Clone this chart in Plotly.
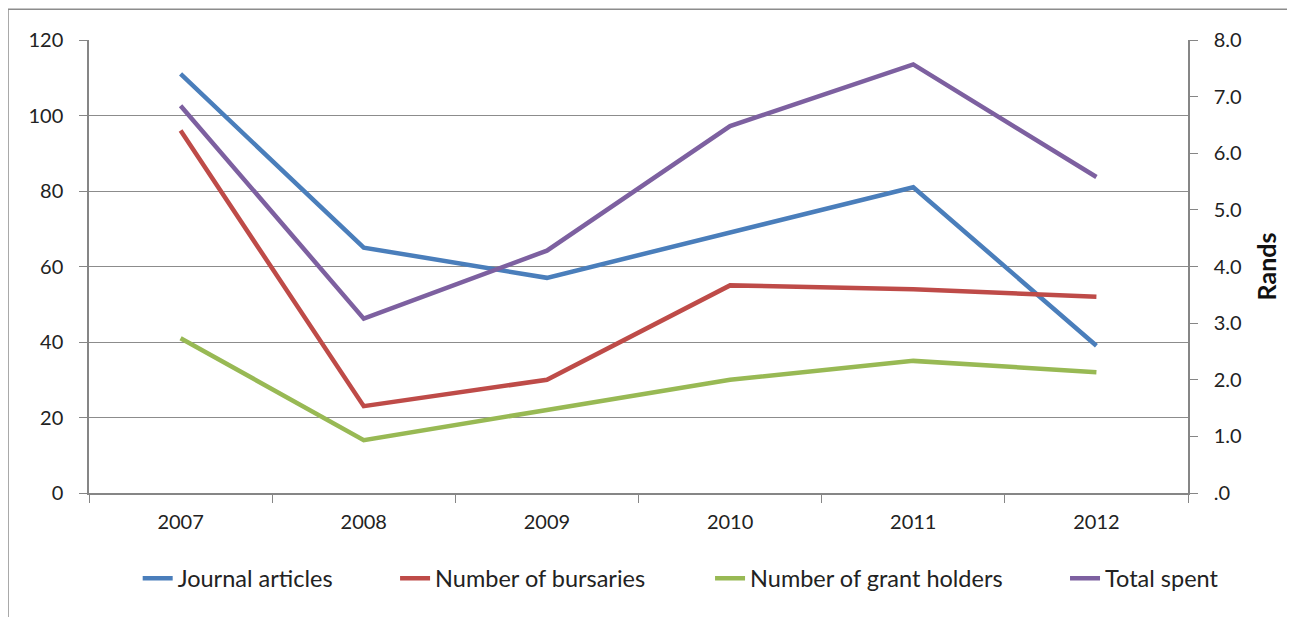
import plotly.graph_objects as go

years = ["2007", "2008", "2009", "2010", "2011", "2012"]
journal_articles = [111, 65, 57, 69, 81, 39]
bursaries = [96, 23, 30, 55, 54, 52]
grant_holders = [41, 14, 22, 30, 35, 32]
total_spent = [6.84, 3.08, 4.28, 6.48, 7.57, 5.58]

left_ticks = [0, 20, 40, 60, 80, 100, 120]
right_ticks = [0, 1, 2, 3, 4, 5, 6, 7, 8]
right_labels = [".0", "1.0", "2.0", "3.0", "4.0", "5.0", "6.0", "7.0", "8.0"]

series = [
    ("Journal articles", journal_articles, "#4A7EBB", "y"),
    ("Number of bursaries", bursaries, "#BE4B48", "y"),
    ("Number of grant holders", grant_holders, "#98B954", "y"),
    ("Total spent", total_spent, "#7D60A0", "y2"),
]
legend_ids = ["legend", "legend2", "legend3", "legend4"]
legend_x = [0.0443, 0.2785, 0.5651, 0.8881]

fig = go.Figure()
for (name, vals, color, ax), lg in zip(series, legend_ids):
    fig.add_trace(go.Scatter(x=years, y=vals, name=name, mode="lines",
                             line=dict(color=color, width=4.5), yaxis=ax, legend=lg))

font = dict(family="Lato, Open Sans, sans-serif", size=20, color="#222222")
legend_style = dict(orientation="h", xanchor="left", y=-0.14, yanchor="top",
                    font=dict(size=23.5, color="#222222"), bgcolor="rgba(0,0,0,0)")
fig.update_layout(
    width=1295, height=617,
    margin=dict(l=81, r=115, t=32, b=132, autoexpand=False),
    paper_bgcolor="white", plot_bgcolor="white",
    font=font,
    showlegend=True,
    xaxis=dict(type="category", range=[-0.5, 5.5], tickson="boundaries",
               ticks="outside", ticklen=8, tickcolor="#868686", automargin=False,
               showline=True, linecolor="#868686", linewidth=1.5,
               showgrid=False, zeroline=False, ticklabelstandoff=10),
    yaxis=dict(range=[0, 120], tickvals=left_ticks, ticks="outside", ticklen=8,
               tickcolor="#868686", showline=True, linecolor="#868686", linewidth=1.5,
               showgrid=True, gridcolor="#8c8c8c", gridwidth=1.2, zeroline=False,
               ticklabelstandoff=12, automargin=False),
    yaxis2=dict(range=[0, 8], overlaying="y", side="right", tickvals=right_ticks,
                ticktext=right_labels, ticks="outside", ticklen=8, tickcolor="#868686",
                showline=True, linecolor="#868686", linewidth=1.5, showgrid=False,
                zeroline=False, ticklabelstandoff=12, automargin=False,
                title=dict(text="<b>Rands</b>", font=dict(size=25, color="#111111"),
                           standoff=18)),
)
for lg, lx in zip(legend_ids, legend_x):
    fig.update_layout({lg: dict(legend_style, x=lx)})

# outer chart frame (left and top edges visible)
fig.add_shape(type="line", xref="paper", yref="paper", x0=-0.0737, x1=1.1, y0=1.068, y1=1.068,
              line=dict(color="#8c8c8c", width=1.5))
fig.add_shape(type="line", xref="paper", yref="paper", x0=-0.0737, x1=-0.0737, y0=1.068, y1=-0.28,
              line=dict(color="#8c8c8c", width=1.5))

fig.write_html("out.html")
